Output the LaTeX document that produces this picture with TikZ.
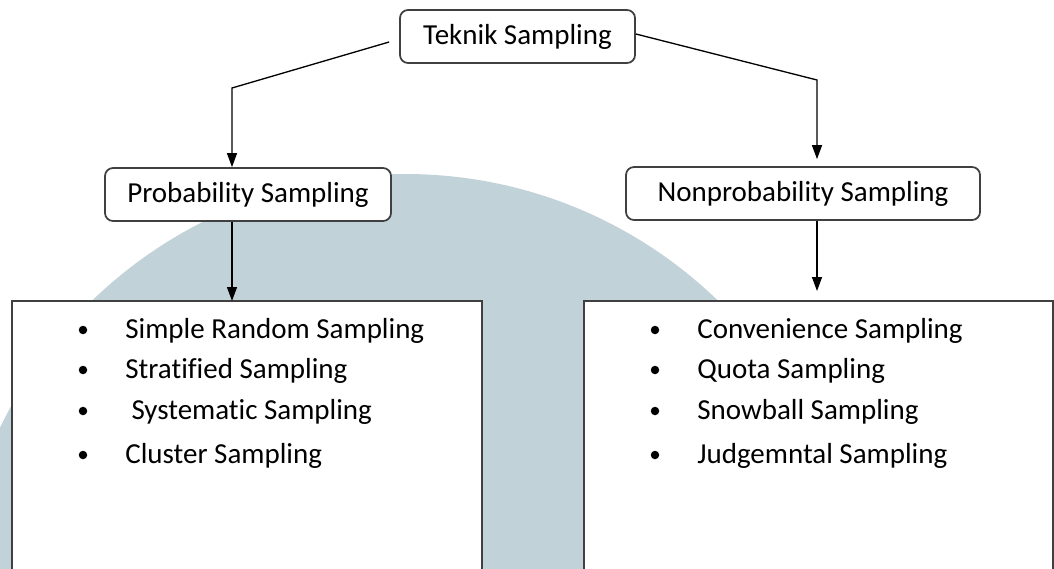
\documentclass[tikz,border=0pt]{standalone}
\usepackage{fontspec}
\setmainfont{Carlito}[Ligatures=NoCommon]
\usetikzlibrary{arrows.meta}
\definecolor{wmark}{RGB}{193,211,217}
\definecolor{boxline}{RGB}{64,64,64}
\tikzset{
  roundbox/.style={draw=boxline, line width=1pt, rounded corners=0.16cm, fill=white,
    minimum height=1.06cm, inner sep=0pt, font=\fontsize{16.5}{20}\selectfont},
  listbox/.style={draw=boxline, line width=1pt, fill=white},
  item/.style={inner sep=0pt, anchor=base west, font=\fontsize{16.5}{20}\selectfont},
  arr/.style={line width=0.75pt, -{Triangle[length=0.28cm, width=0.2cm]}},
}
\begin{document}
\begin{tikzpicture}
  % page and faded logo behind
  \fill[white] (0,0) rectangle (21.08,11.36);
  \useasboundingbox (0,0) rectangle (21.08,11.36);
  \begin{scope}
    \clip (0,0) rectangle (21.08,11.36);
    \fill[wmark] (8.1,-1.12) circle (9);
  \end{scope}
  % top node
  \node[roundbox, minimum width=4.7cm] (teknik) at (10.35,10.63) {Teknik Sampling};
  % second level
  \node[roundbox, minimum width=5.72cm] (prob) at (4.96,7.47) {Probability Sampling};
  \node[roundbox, minimum width=7.08cm] (nonprob) at (16.06,7.49) {Nonprobability Sampling};
  % list boxes, bottom runs off the page
  \draw[listbox] (0.24,-0.3) rectangle (9.64,5.34);
  \draw[listbox] (11.68,-0.3) rectangle (21.06,5.34);
  \coordinate (problist) at (4.64,5.34);
  \coordinate (nonproblist) at (16.34,5.34);
  \foreach \y/\txt [count=\i] in {4.6/Simple Random Sampling, 3.8/Stratified Sampling,
      2.98/{\hspace{3.5pt}Systematic Sampling}, 2.1/Cluster Sampling} {
    \fill (1.66,\y+0.16) circle (0.085);
    \node[item] (pitem\i) at (2.5,\y) {\txt};
  }
  \foreach \y/\txt [count=\i] in {4.6/Convenience Sampling, 3.8/Quota Sampling,
      2.98/Snowball Sampling, 2.1/Judgemntal Sampling} {
    \fill (13.1,\y+0.16) circle (0.085);
    \node[item] (nitem\i) at (13.94,\y) {\txt};
  }
  % connectors
  \coordinate (lbend) at (4.64,9.6);
  \coordinate (rbend) at (16.34,9.76);
  \draw[arr] ([shift={(-0.2,-0.11)}]teknik.west) -- (lbend) -- (lbend |- prob.north);
  \draw[arr, shorten >=0.14cm] ([yshift=0.05cm]teknik.east) -- (rbend) -- (rbend |- nonprob.north);
  \draw[arr] (lbend |- prob.south) -- (problist);
  \draw[arr, shorten >=0.2cm] (rbend |- nonprob.south) -- (nonproblist);
\end{tikzpicture}
\end{document}
